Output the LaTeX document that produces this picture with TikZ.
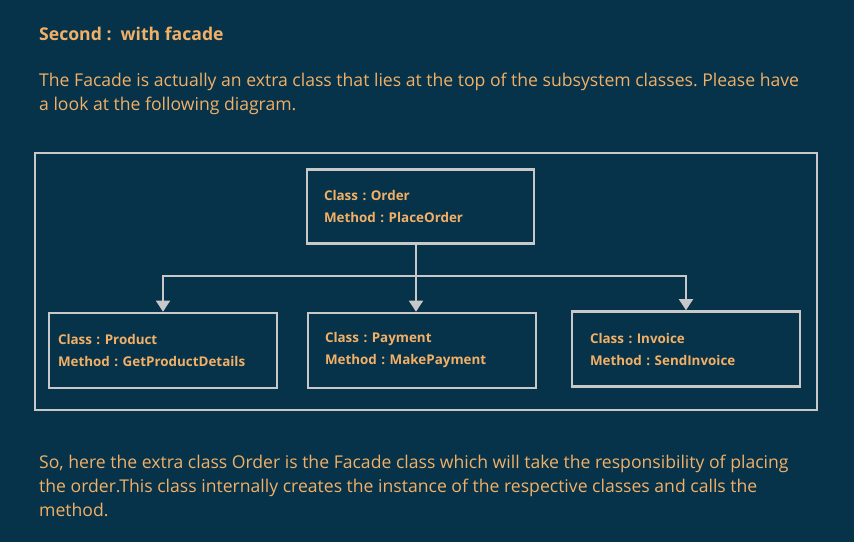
\documentclass[tikz,border=0pt]{standalone}
\usepackage{fontspec}
\setmainfont{Open Sans}
\usetikzlibrary{arrows.meta}
\definecolor{bgc}{HTML}{06324A}
\definecolor{txt}{HTML}{F2B066}
\definecolor{edge}{HTML}{C8C8C8}
\frenchspacing
\begin{document}
\begin{tikzpicture}[x=1pt,y=-1pt,
  para/.style={anchor=base west,inner sep=0pt,text=txt,align=left,
    font=\fontsize{17.6}{24}\selectfont},
  classbox/.style={draw=edge,line width=2.6pt,text=txt,align=left,
    minimum width=228pt,minimum height=75pt,
    font=\bfseries\fontsize{13.4}{22}\selectfont},
  link/.style={draw=edge,line width=1.6pt},
  arrow/.style={link,-{Triangle[width=14pt,length=11pt]}}]
\fill[bgc] (0,0) rectangle (854,542);
\useasboundingbox (0,0) rectangle (854,542);

\node[para,font=\bfseries\fontsize{17.6}{22}\selectfont] (title) at (39,40) {Second :\ \ with facade};
% multi-line nodes sit on the baseline of their last line
\node[para] (intro) at (39,110) {The Facade is actually an extra class that lies at the top of the subsystem classes. Please have\\a look at the following diagram.};

\node[draw=edge,line width=1.8pt,minimum width=782pt,minimum height=257pt,anchor=north west] (frame) at (34,152) {};

\node[classbox,minimum width=227pt,minimum height=74pt,text width=193pt,inner xsep=17pt] (order) at (420.5,206.5) {Class : Order\\Method : PlaceOrder};
\node[classbox,text width=210pt,inner xsep=9pt] (product) at (163,350.5) {Class : Product\\Method : GetProductDetails};
\node[classbox,text width=194pt,inner xsep=17pt] (payment) at (422,350.5) {Class : Payment\\Method : MakePayment};
\node[classbox,text width=192pt,inner xsep=18pt] (invoice) at (686,349) {Class : Invoice\\Method : SendInvoice};

\coordinate (split) at (416,276);
\draw[link] (order.south -| split) -- (split);
\draw[arrow] (split) -| (product.north);
\draw[arrow] (split) -- (split |- payment.north);
\draw[arrow] (split) -| (invoice.north);

\node[para] (outro) at (39,516) {So, here the extra class Order is the Facade class which will take the responsibility of placing\\the order.This class internally creates the instance of the respective classes and calls the\\method.};
\end{tikzpicture}
\end{document}
